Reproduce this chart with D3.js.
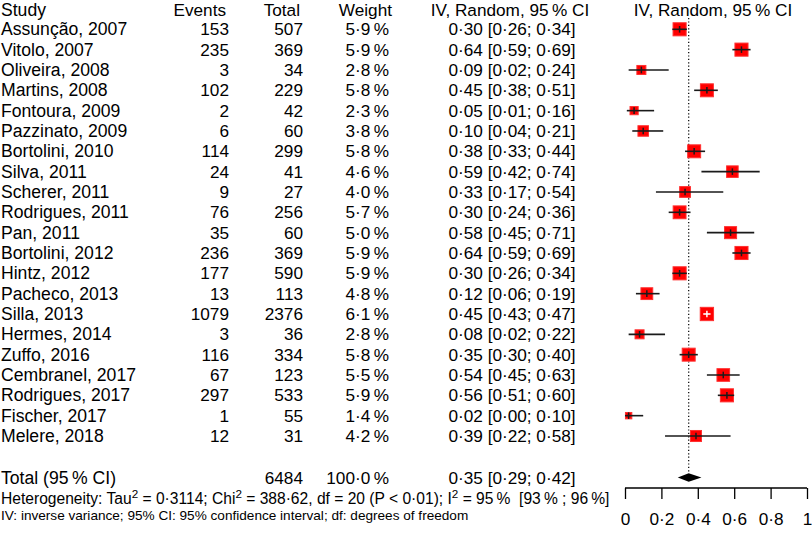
<!DOCTYPE html>
<html><head><meta charset="utf-8">
<script src="https://cdn.jsdelivr.net/npm/d3@7"></script>
<style>html,body{margin:0;padding:0;background:#fff;}svg{display:block;font-family:"Liberation Sans",Arial,Helvetica,sans-serif;}</style>
</head><body>
<svg id="c" width="812" height="533"></svg>
<script>
const studies = ["Assunção, 2007","Vitolo, 2007","Oliveira, 2008","Martins, 2008","Fontoura, 2009","Pazzinato, 2009","Bortolini, 2010","Silva, 2011","Scherer, 2011","Rodrigues, 2011","Pan, 2011","Bortolini, 2012","Hintz, 2012","Pacheco, 2013","Silla, 2013","Hermes, 2014","Zuffo, 2016","Cembranel, 2017","Rodrigues, 2017","Fischer, 2017","Melere, 2018"];
const events = [153,235,3,102,2,6,114,24,9,76,35,236,177,13,1079,3,116,67,297,1,12];
const totals = [507,369,34,229,42,60,299,41,27,256,60,369,590,113,2376,36,334,123,533,55,31];
const weights = [5.9,5.9,2.8,5.8,2.3,3.8,5.8,4.6,4.0,5.7,5.0,5.9,5.9,4.8,6.1,2.8,5.8,5.5,5.9,1.4,4.2];
const est = [0.30,0.64,0.09,0.45,0.05,0.10,0.38,0.59,0.33,0.30,0.58,0.64,0.30,0.12,0.45,0.08,0.35,0.54,0.56,0.02,0.39];
const lower = [0.26,0.59,0.02,0.38,0.01,0.04,0.33,0.42,0.17,0.24,0.45,0.59,0.26,0.06,0.43,0.02,0.30,0.45,0.51,0.00,0.22];
const upper = [0.34,0.69,0.24,0.51,0.16,0.21,0.44,0.74,0.54,0.36,0.71,0.69,0.34,0.19,0.47,0.22,0.40,0.63,0.60,0.10,0.58];
const pooled = {label:"Total (95\u2009% CI)", total:6484, weight:100.0, est:0.35, lo:0.29, hi:0.42};
const ticks = [0,0.2,0.4,0.6,0.8,1];
const headers = ["Study","Events","Total","Weight","IV, Random, 95\u2009% CI","IV, Random, 95\u2009% CI"];

const svg = d3.select("#c");
const FS = 17.2;
const dot = s => s.replace(/\./g, "\u00b7");
const f2 = d3.format(".2f"), f1 = d3.format(".1f");

const x = d3.scaleLinear().domain([0,1]).range([625,807]);
const y = d3.scaleLinear().domain([0,20]).range([29.3, 436]);
const yTotal = 477.5;
const side = d3.scaleSqrt().domain([0,6.1]).range([0,13.3]);

const cols = {study:1, events:229, total:303, weight:389, ci:512};
const txt = (xx, yy, s, anchor, size) => svg.append("text").attr("x",xx).attr("y",yy)
  .attr("dy","0.35em").attr("text-anchor",anchor||"start").attr("font-size",size||FS).attr("fill","#000").text(s);

// headers
const yH = 9.5;
txt(cols.study, yH, headers[0], "start", 17.6);
txt(226, yH, headers[1], "end");
txt(300, yH, headers[2], "end");
txt(392, yH, headers[3], "end");
txt(510, yH, headers[4], "middle");
txt(713, yH, headers[5], "middle");

// rows
studies.forEach((s,i)=>{
  const yy = y(i);
  txt(cols.study, yy, s, "start", 17.6);
  txt(cols.events, yy, String(events[i]), "end");
  txt(cols.total, yy, String(totals[i]), "end");
  txt(cols.weight, yy, dot(f1(weights[i]))+"\u2009%", "end");
  txt(cols.ci, yy, dot(f2(est[i]))+" ["+dot(f2(lower[i]))+"; "+dot(f2(upper[i]))+"]", "middle");
});

// total row
txt(cols.study, yTotal, pooled.label, "start", 17.6);
txt(cols.total, yTotal, String(pooled.total), "end");
txt(cols.weight, yTotal, dot(f1(pooled.weight))+"\u2009%", "end");
txt(cols.ci, yTotal, dot(f2(pooled.est))+" ["+dot(f2(pooled.lo))+"; "+dot(f2(pooled.hi))+"]", "middle");

// reference dotted line at pooled estimate
svg.append("line").attr("x1",x(pooled.est)).attr("x2",x(pooled.est)).attr("y1",18).attr("y2",yTotal-4)
  .attr("stroke","#000").attr("stroke-width",1.2).attr("stroke-dasharray","1.2,2.2");

// study marks
const g = svg.append("g");
studies.forEach((s,i)=>{
  const yy = y(i), cx = x(est[i]), sd = side(weights[i]);
  g.append("rect").attr("x",cx-sd/2).attr("y",yy-sd/2).attr("width",sd).attr("height",sd)
    .attr("fill","#ff0000").attr("stroke","#ff3030").attr("stroke-width",1);
  const inside = x(lower[i]) >= cx-sd/2-0.5 && x(upper[i]) <= cx+sd/2+0.5;
  const col = inside ? "#fff" : "#1a1a1a";
  g.append("line").attr("x1",x(lower[i])).attr("x2",x(upper[i])).attr("y1",yy).attr("y2",yy)
    .attr("stroke",col).attr("stroke-width",1.6);
  g.append("line").attr("x1",cx).attr("x2",cx).attr("y1",yy-3.3).attr("y2",yy+3.3)
    .attr("stroke",col).attr("stroke-width",1.5);
});

// diamond
svg.append("path").attr("d", d3.line()([[x(pooled.lo),yTotal],[x(pooled.est),yTotal-4.3],[x(pooled.hi),yTotal],[x(pooled.est),yTotal+4.3]])+"Z")
  .attr("fill","#000");

// axis
const axis = d3.axisBottom(x).tickValues(ticks).tickSize(11).tickPadding(14).tickFormat(d=>d===0||d===1?String(d):dot(d3.format(".1f")(d)));
const ag = svg.append("g").attr("transform","translate(0,488)").call(axis);
ag.select(".domain").attr("d", `M${x(0)},0H${x(1)}`).attr("stroke","#000").attr("stroke-width",1.3);
ag.selectAll(".tick line").attr("stroke","#000").attr("stroke-width",1.3);
ag.selectAll(".tick text").attr("font-size",FS).attr("font-family","Liberation Sans, Arial, sans-serif").attr("fill","#000");

// heterogeneity line
const SF = 15.6;
const het = svg.append("text").attr("x",1).attr("y",503.5).attr("font-size",SF).attr("fill","#000").style("white-space","pre");
const parts = [["Heterogeneity: Tau",0],["2",1],[" = 0\u00b73114; Chi",0],["2",1],[" = 388\u00b762, df = 20 (P < 0\u00b701); I",0],["2",1],[" = 95\u2009%  [93\u2009% ; 96\u2009%]",0]];
parts.forEach(([t,sup],k)=>{
  const ts = het.append("tspan").text(t);
  if (sup) ts.attr("font-size",SF*0.75).attr("dy",-6);
  else if (k>0) ts.attr("dy",6);
});
svg.append("text").attr("x",1).attr("y",519.5).attr("font-size",13.6).attr("fill","#000")
  .text("IV: inverse variance; 95% CI: 95% confidence interval; df: degrees of freedom");
</script>
</body></html>
